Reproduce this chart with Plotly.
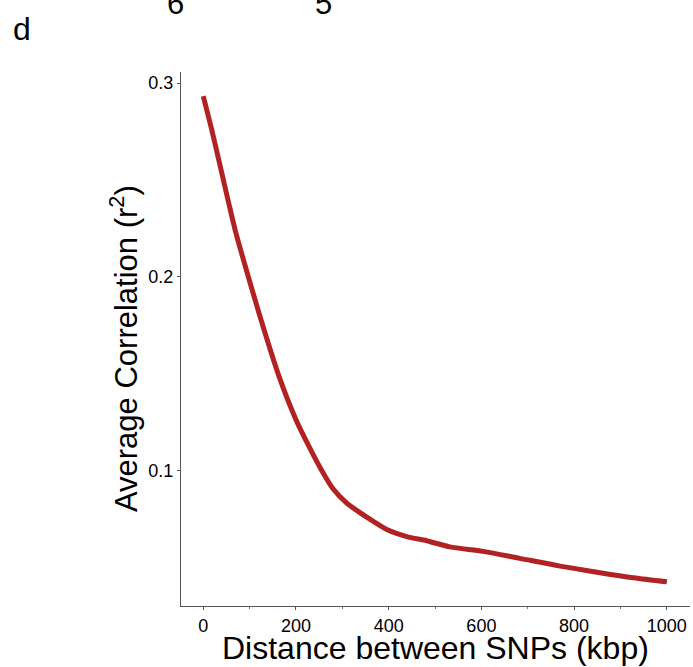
import plotly.graph_objects as go

distance_kbp = [0, 18, 36, 54, 70, 90, 110, 130, 165, 200, 230, 255, 280, 309, 338,
                367, 396, 439, 482, 532, 604, 683, 770, 856, 928, 1000]
avg_r2 = [0.2933, 0.2762, 0.2577, 0.2390, 0.2230, 0.2060, 0.1895, 0.1735, 0.1475,
          0.1262, 0.1115, 0.1002, 0.0905, 0.0832, 0.0782, 0.0737, 0.0695, 0.0658,
          0.0637, 0.0605, 0.0582, 0.0546, 0.0506, 0.0472, 0.0446, 0.0425]

x_ticks = [0, 200, 400, 600, 800, 1000]
y_ticks = [0.1, 0.2, 0.3]
y_tick_labels = ["0.1", "0.2", "0.3"]

FONT = "Arial, Liberation Sans, sans-serif"

fig = go.Figure()
fig.add_trace(go.Scatter(
    x=distance_kbp, y=avg_r2, mode="lines",
    line=dict(color="#B22222", width=5, shape="spline", smoothing=0.8),
    showlegend=False, hoverinfo="skip"))

fig.update_layout(
    width=693, height=667,
    margin=dict(l=181, r=3, t=72, b=61),
    paper_bgcolor="white", plot_bgcolor="white",
    font=dict(family=FONT, color="black"),
    xaxis=dict(range=[-48, 1050], tickvals=x_ticks, showgrid=False, zeroline=False,
               showline=True, linecolor="#555555", linewidth=1,
               ticks="outside", ticklen=3, tickcolor="#555555",
               tickfont=dict(size=18, family=FONT),
               minor=dict(ticks="outside", ticklen=2, dtick=100, tick0=0, tickcolor="#777777", showgrid=False)),
    yaxis=dict(range=[0.0300, 0.3057], tickvals=y_ticks, ticktext=y_tick_labels,
               showgrid=False, zeroline=False,
               showline=True, linecolor="#555555", linewidth=1,
               ticks="outside", ticklen=3, tickcolor="#555555",
               tickfont=dict(size=18, family=FONT)),
    annotations=[
        dict(text="Distance between SNPs (kbp)", xref="paper", yref="paper",
             x=0.5, y=-0.0795, xanchor="center", yanchor="middle", showarrow=False,
             font=dict(size=32, family=FONT)),
        dict(text="Average Correlation (r<sup>2</sup>)", xref="paper", yref="paper",
             x=-0.112, y=0.483, xanchor="center", yanchor="middle", textangle=-90,
             showarrow=False, font=dict(size=31, family=FONT)),
        dict(text="d", xref="paper", yref="paper", x=-0.313, y=1.0805,
             xanchor="center", yanchor="middle", showarrow=False,
             font=dict(size=32, family=FONT)),
        dict(text="6", xref="paper", yref="paper", x=-0.0108, y=1.129,
             xanchor="center", yanchor="middle", showarrow=False,
             font=dict(size=31, family=FONT)),
        dict(text="5", xref="paper", yref="paper", x=0.28, y=1.129,
             xanchor="center", yanchor="middle", showarrow=False,
             font=dict(size=31, family=FONT)),
    ],
)

fig.write_html("out.html")
